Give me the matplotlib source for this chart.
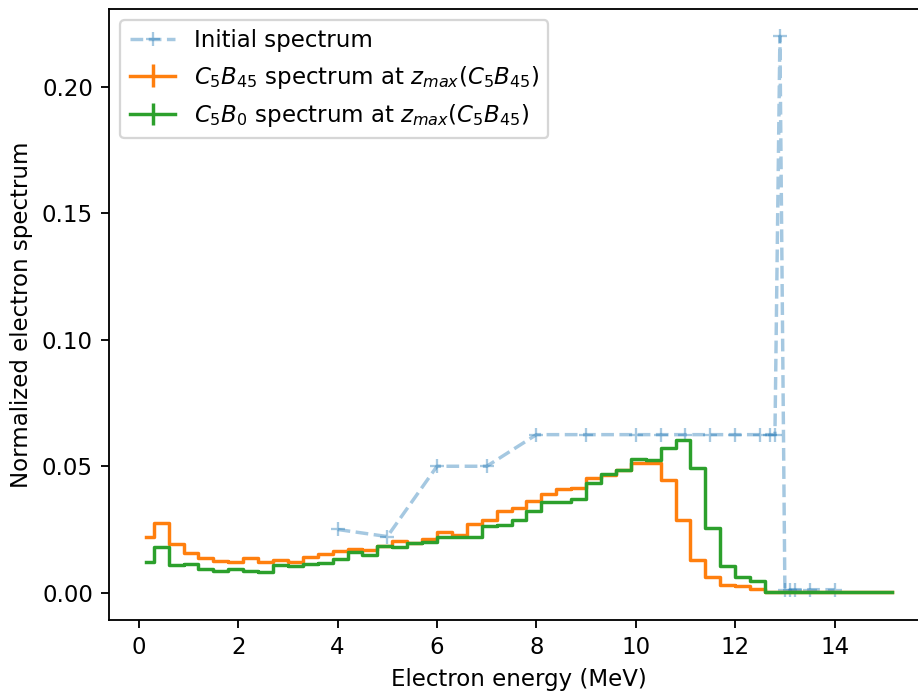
import numpy as np
import matplotlib
matplotlib.use("Agg")
import matplotlib.pyplot as plt

# Initial (injected) spectrum
init_energy = [4, 5, 6, 7, 8, 9, 10, 10.5, 11, 11.5, 12, 12.5, 12.7, 12.8,
               12.9, 13.0, 13.1, 13.2, 13.5, 14.0]
init_spec = [0.025, 0.0222, 0.05, 0.05, 0.0625, 0.0625, 0.0625, 0.0625,
             0.0625, 0.0625, 0.0625, 0.0625, 0.0625, 0.0625, 0.22, 0.0012,
             0.0012, 0.0012, 0.0012, 0.0012]

# histogram bins, 0.3 MeV wide
bin_width = 0.3
n_bins = 51
bin_centers = bin_width * np.arange(n_bins) + bin_width / 2

spec_c5b45 = [0.0219, 0.0277, 0.0193, 0.0158, 0.0136, 0.0127, 0.0123, 0.0139,
              0.0123, 0.0130, 0.0122, 0.0140, 0.0152, 0.0163, 0.0172, 0.0170,
              0.0186, 0.0204, 0.0198, 0.0213, 0.0239, 0.0229, 0.0270, 0.0288,
              0.0323, 0.0336, 0.0361, 0.0392, 0.0409, 0.0415, 0.0454, 0.0464,
              0.0484, 0.0511, 0.0513, 0.0445, 0.0288, 0.0130, 0.0061, 0.0032,
              0.0026, 0.0015, 0.0002, 0.0002, 0.0002, 0.0002, 0.0002, 0.0002,
              0.0002, 0.0002, 0.0002]

spec_c5b0 = [0.0120, 0.0180, 0.0108, 0.0114, 0.0095, 0.0085, 0.0094, 0.0086,
             0.0081, 0.0108, 0.0107, 0.0114, 0.0117, 0.0133, 0.0159, 0.0150,
             0.0185, 0.0180, 0.0196, 0.0200, 0.0222, 0.0222, 0.0222, 0.0262,
             0.0266, 0.0286, 0.0325, 0.0358, 0.0358, 0.0369, 0.0433, 0.0471,
             0.0484, 0.0530, 0.0524, 0.0572, 0.0604, 0.0493, 0.0255, 0.0105,
             0.0064, 0.0046, 0.0002, 0.0002, 0.0002, 0.0002, 0.0002, 0.0002,
             0.0002, 0.0002, 0.0002]

DPI = 165
fig, ax = plt.subplots(figsize=(918 / DPI, 691 / DPI), dpi=DPI)
# the right edge of the axes runs slightly past the image border, like the original
fig.subplots_adjust(left=109 / 918, right=929 / 918, bottom=1 - 620 / 691, top=1 - 8.5 / 691)

ax.plot(init_energy, init_spec, '+--', alpha=0.4, label='Initial spectrum')
ax.errorbar(bin_centers, spec_c5b45, yerr=np.zeros(n_bins), drawstyle='steps-mid',
            label=r'$C_5B_{45}$ spectrum at $z_{max}(C_5B_{45})$')
ax.errorbar(bin_centers, spec_c5b0, yerr=np.zeros(n_bins), drawstyle='steps-mid',
            label=r'$C_5B_0$ spectrum at $z_{max}(C_5B_{45})$')

ax.set_xlabel('Electron energy (MeV)')
ax.set_ylabel('Normalized electron spectrum')
ax.legend(loc='upper left')

fig.savefig('out.png', dpi=DPI)
